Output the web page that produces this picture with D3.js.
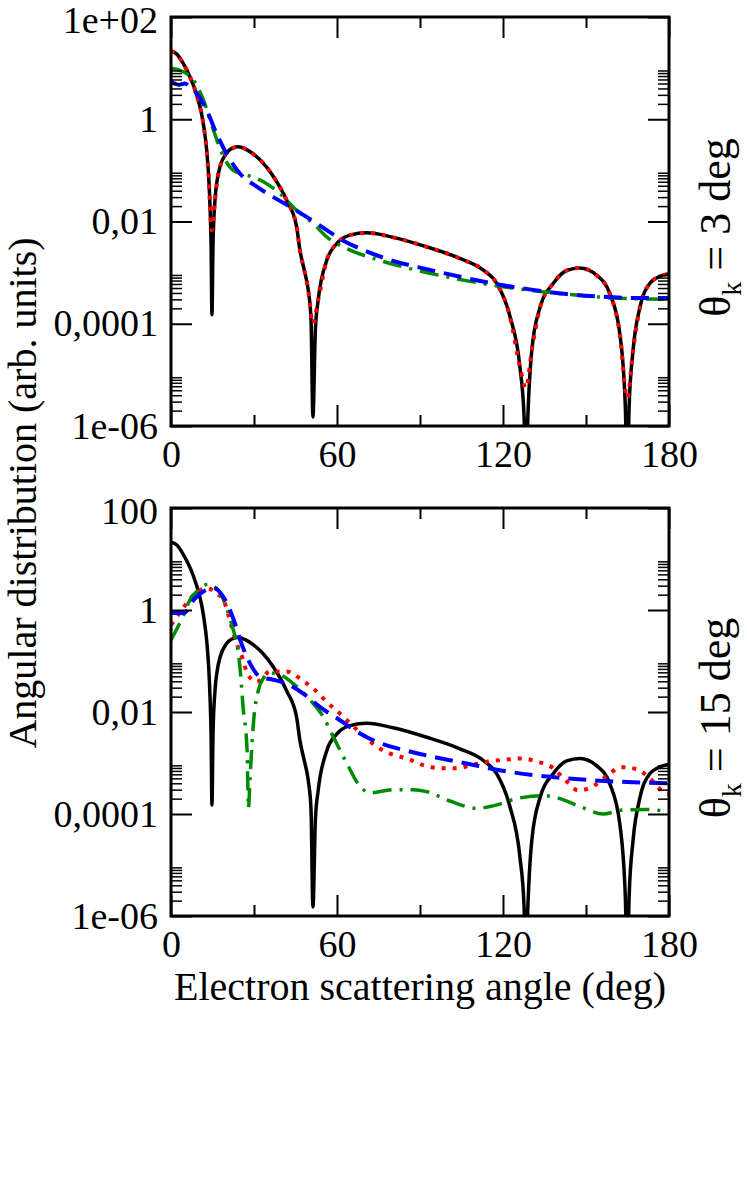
<!DOCTYPE html>
<html lang="en">
<head>
  <meta charset="UTF-8">
  <title>Angular distribution</title>
  <script src="https://cdn.jsdelivr.net/npm/d3@7"></script>
  <style>
    body {
      margin: 0;
      background: #fff;
    }
    svg text {
      fill: #000;
      white-space: pre;
    }
  </style>
</head>
<body>
  <svg id="chart" width="747" height="1194"></svg>
  <script>
    // ticks and labels
    const angleTicks = [0, 60, 120, 180];
    const angleMinorTicks = [30, 90, 150];
    const decadeTicks = [1e2, 1, 1e-2, 1e-4, 1e-6];
    const topYLabels = ['1e+02', '1', '0,01', '0,0001', '1e-06'];
    const bottomYLabels = ['100', '1', '0,01', '0,0001', '1e-06'];
    const thetaValues = ['3', '15'];

    // [angle (deg), distribution]
    // solid black curve, same in both panels
    const solidCurve = [
      [0, 21.4], [2, 19], [4, 13.5], [6, 8.5], [8, 4.8], [10, 2.2], [11, 1.32], [12, 0.63],
      [12.9, 0.25], [13.6, 0.079], [14.1, 0.02], [14.5, 3.2e-3], [14.8, 1.5e-4], [15.2, 4e-3],
      [15.9, 0.026], [16.8, 0.07], [17.7, 0.117], [20.1, 0.22], [22, 0.27], [24.3, 0.29],
      [27, 0.26], [29.7, 0.21], [33, 0.145], [37, 0.076], [41.8, 0.026], [45.4, 7.9e-3],
      [46.6, 2.75e-3], [48.2, 1.1e-3], [49.6, 4.6e-4], [50.6, 1.26e-4], [51.3, 1.5e-6],
      [52.2, 8e-5], [53.2, 2.9e-4], [56.3, 1.74e-3], [59.9, 3.7e-3], [64.7, 5.4e-3],
      [70.7, 6.0e-3], [80.3, 4.9e-3], [92.4, 3.2e-3], [104.4, 1.9e-3], [112.9, 1.12e-3],
      [117.7, 6.2e-4], [122.5, 1.4e-4], [126.1, 1.45e-5], [127.6, 1.6e-6], [128.3, 1e-7],
      [129, 1.6e-6], [130.4, 3e-5], [133.4, 2.1e-4], [138.2, 6.2e-4], [143, 1.1e-3],
      [147.8, 1.23e-3], [153.8, 8.9e-4], [158.6, 3.9e-4], [162.2, 6.5e-5], [164.2, 2.5e-6],
      [164.9, 1e-7], [165.6, 2.5e-6], [167, 3e-5], [169.5, 2.1e-4], [173.1, 6.2e-4],
      [176.5, 8.3e-4], [180, 9.5e-4]
    ];

    // theta_k = 3 deg
    const topDotted = [
      [0, 21.4], [2, 19], [4, 13.5], [6, 8.5], [8, 4.8], [10, 2.2], [11, 1.32], [12, 0.63],
      [12.9, 0.25], [13.6, 0.079], [14.7, 6.8e-3], [15.9, 0.026], [16.8, 0.07], [17.7, 0.117],
      [20.1, 0.22], [24.3, 0.29], [29.7, 0.21], [37, 0.076], [41.8, 0.026], [45.4, 7.9e-3],
      [46.6, 2.75e-3], [48.2, 1.1e-3], [49.6, 4.6e-4], [51.3, 1.0e-4], [53.2, 2.9e-4],
      [56.3, 1.74e-3], [59.9, 3.7e-3], [64.7, 5.4e-3], [70.7, 6.0e-3], [80.3, 4.9e-3],
      [92.4, 3.2e-3], [104.4, 1.9e-3], [112.9, 1.12e-3], [117.7, 6.2e-4], [122.5, 1.4e-4],
      [126.1, 1.45e-5], [128.3, 5.5e-6], [130.4, 3e-5], [133.4, 2.1e-4], [138.2, 6.2e-4],
      [143, 1.1e-3], [147.8, 1.23e-3], [153.8, 8.9e-4], [158.6, 3.9e-4], [162.2, 6.5e-5],
      [164.9, 3.5e-6], [167, 3e-5], [169.5, 2.1e-4], [173.1, 6.2e-4], [176.5, 8.3e-4],
      [180, 9.5e-4]
    ];
    const topDashed = [
      [0, 5.4], [2.9, 4.7], [5, 5.0], [7, 4.2], [9.3, 3.2], [12.9, 1.5], [16.5, 0.52],
      [20.1, 0.21], [24.9, 0.087], [31, 0.048], [37, 0.030], [43, 0.0195], [49, 0.0123],
      [56.3, 6.8e-3], [61.1, 4.6e-3], [68.3, 2.95e-3], [80.3, 1.7e-3], [92.4, 1.17e-3],
      [106.8, 7.8e-4], [118.8, 5.8e-4], [130.9, 4.6e-4], [143, 3.8e-4], [155, 3.4e-4],
      [167, 3.2e-4], [180, 3.2e-4]
    ];
    const topDashDot = [
      [0, 10], [4.45, 8.5], [8.1, 5.9], [11.7, 2.4], [15.3, 0.62], [18.9, 0.19], [22.5, 0.10],
      [27.4, 0.081], [33.4, 0.060], [39.4, 0.035], [45.4, 0.0166], [51.4, 9.1e-3],
      [56.3, 5.0e-3], [63.5, 2.95e-3], [73.1, 1.9e-3], [86.4, 1.2e-3], [102, 7.8e-4],
      [118.8, 5.4e-4], [135, 4.2e-4], [159.8, 3.2e-4], [180, 3.0e-4]
    ];

    // theta_k = 15 deg
    const bottomDotted = [
      [0, 0.51], [3.9, 1.0], [7.5, 1.8], [10.5, 2.45], [13, 2.7], [16.5, 2.1], [18.9, 1.6],
      [21.9, 0.47], [24, 0.2], [25.9, 0.112], [27.6, 0.056], [31, 0.039], [35.8, 0.062],
      [41.8, 0.062], [47.2, 0.043], [52, 0.027], [56.3, 0.0158], [61.1, 9.3e-3], [65.3, 5.6e-3],
      [69.5, 3.5e-3], [74.3, 2.1e-3], [80.3, 1.45e-3], [85.2, 1.23e-3], [91.2, 9.1e-4],
      [97.2, 7.9e-4], [103.3, 7.9e-4], [108.7, 9.1e-4], [114.7, 1.07e-3], [121.3, 1.17e-3],
      [126.7, 1.23e-3], [132.2, 1.07e-3], [138.2, 7.9e-4], [142.4, 4.7e-4], [147.2, 2.9e-4],
      [152.6, 3.5e-4], [157.5, 5.6e-4], [162.9, 8.3e-4], [168.3, 7.6e-4], [173.1, 5.0e-4],
      [177.9, 2.75e-4], [180, 2.5e-4]
    ];
    const bottomDashed = [
      [0, 0.87], [4.5, 0.87], [8.7, 1.7], [11.7, 2.3], [15.3, 2.7], [19.5, 1.6], [23.1, 0.55],
      [25, 0.26], [28.6, 0.089], [32.2, 0.049], [37, 0.043], [41.8, 0.036], [47.8, 0.023],
      [53.8, 0.0126], [61.1, 6.9e-3], [68.3, 3.8e-3], [75.5, 2.45e-3], [85.2, 1.74e-3],
      [94.8, 1.32e-3], [106.8, 9.8e-4], [118.8, 7.2e-4], [130.9, 5.8e-4], [143, 5.0e-4],
      [155, 4.5e-4], [167, 4.2e-4], [180, 4.0e-4]
    ];
    const bottomDashDot = [
      [0, 0.26], [4.5, 0.79], [6.9, 1.6], [9.9, 2.45], [13.5, 3.2], [17.1, 2.45], [20.7, 0.87],
      [22.5, 0.41], [24.2, 0.166], [24.9, 0.078], [26.1, 0.0117], [27.5, 1.8e-3], [28, 1.3e-4],
      [28.5, 4e-4], [29.2, 2.1e-3], [30, 8.1e-3], [31.6, 0.027], [33.4, 0.046], [35.8, 0.058],
      [39.4, 0.054], [44.2, 0.036], [50.2, 0.0174], [55, 8.1e-3], [58.6, 3.3e-3], [63.5, 1.0e-3],
      [68.3, 3.5e-4], [71.9, 2.6e-4], [80.3, 3.0e-4], [87.5, 3.0e-4], [92.4, 2.75e-4],
      [100.8, 1.8e-4], [110.4, 1.3e-4], [117.6, 1.5e-4], [124.9, 2.0e-4], [134.5, 2.3e-4],
      [140.6, 2.0e-4], [147.8, 1.4e-4], [156.2, 1.0e-4], [163.4, 1.2e-4], [171.9, 1.23e-4],
      [180, 1.1e-4]
    ];

    // line styles
    const solidStyle   = { color: '#000000', width: 3.5, dash: null };
    const dottedStyle  = { color: '#ff0000', width: 4,   dash: '4,7' };
    const dashedStyle  = { color: '#0000ff', width: 4,   dash: '18,9' };
    const dashDotStyle = { color: '#008b00', width: 3.5, dash: '19,8,3,8' };

    const serif = '"Liberation Serif", "Times New Roman", Times, "DejaVu Serif", serif';
    const plotLeft = 171, plotRight = 669;
    const panels = [
      { top: 17,  bottom: 426, yLabels: topYLabels, theta: thetaValues[0],
        series: [[solidCurve, solidStyle], [topDotted, dottedStyle], [topDashDot, dashDotStyle], [topDashed, dashedStyle]] },
      { top: 508, bottom: 916, yLabels: bottomYLabels, theta: thetaValues[1],
        series: [[solidCurve, solidStyle], [bottomDotted, dottedStyle], [bottomDashDot, dashDotStyle], [bottomDashed, dashedStyle]] }
    ];

    // minor log ticks: 2..9 times every labelled decade
    const minorDecadeTicks = [];
    [1e-6, 1e-4, 1e-2, 1].forEach(d => {
      for (let m = 2; m <= 9; m++) minorDecadeTicks.push(m * d);
    });

    const svg = d3.select('#chart').attr('font-family', serif);
    const x = d3.scaleLinear().domain([0, 180]).range([plotLeft, plotRight]);

    function styleAxis(g, width) {
      g.select('.domain').remove();
      g.attr('font-size', 38).attr('font-family', serif);
      g.selectAll('.tick line').attr('stroke', '#000').attr('stroke-width', width);
    }

    panels.forEach((p, i) => {
      const y = d3.scaleLog().domain([1e-6, 1e2]).range([p.bottom, p.top]);
      const g = svg.append('g');

      g.append('clipPath')
        .attr('id', 'clip' + i)
        .append('rect')
          .attr('x', plotLeft).attr('y', p.top)
          .attr('width', plotRight - plotLeft).attr('height', p.bottom - p.top);

      const line = d3.line()
        .x(d => x(d[0]))
        .y(d => y(d[1]))
        .curve(d3.curveMonotoneX);

      const curves = g.append('g').attr('clip-path', `url(#clip${i})`);
      p.series.forEach(([data, st]) => {
        curves.append('path')
          .attr('d', line(data))
          .attr('fill', 'none')
          .attr('stroke', st.color)
          .attr('stroke-width', st.width)
          .attr('stroke-dasharray', st.dash)
          .attr('stroke-linejoin', 'round');
      });

      // major ticks with labels (bottom, left), mirrored inside on top and right
      g.append('g')
        .attr('transform', `translate(0,${p.bottom})`)
        .call(d3.axisBottom(x).tickValues(angleTicks).tickSize(-21).tickSizeOuter(0).tickPadding(14))
        .call(a => styleAxis(a, 2));
      g.append('g')
        .attr('transform', `translate(0,${p.bottom})`)
        .call(d3.axisBottom(x).tickValues(angleMinorTicks).tickSize(-11).tickSizeOuter(0).tickFormat(''))
        .call(a => styleAxis(a, 2));
      g.append('g')
        .attr('transform', `translate(0,${p.top})`)
        .call(d3.axisTop(x).tickValues(angleTicks).tickSize(-21).tickSizeOuter(0).tickFormat(''))
        .call(a => styleAxis(a, 2));
      g.append('g')
        .attr('transform', `translate(0,${p.top})`)
        .call(d3.axisTop(x).tickValues(angleMinorTicks).tickSize(-11).tickSizeOuter(0).tickFormat(''))
        .call(a => styleAxis(a, 2));

      const yAxis = g.append('g')
        .attr('transform', `translate(${plotLeft},0)`)
        .call(d3.axisLeft(y).tickValues(decadeTicks).tickSize(-21).tickSizeOuter(0).tickPadding(13)
          .tickFormat((d, k) => p.yLabels[k]))
        .call(a => styleAxis(a, 2));
      // keep the top label inside the page
      yAxis.selectAll('.tick text').filter(d => d === 1e2).attr('dy', '0.42em');

      g.append('g')
        .attr('transform', `translate(${plotLeft},0)`)
        .call(d3.axisLeft(y).tickValues(minorDecadeTicks).tickSize(-11).tickSizeOuter(0).tickFormat(''))
        .call(a => styleAxis(a, 1.5));
      g.append('g')
        .attr('transform', `translate(${plotRight},0)`)
        .call(d3.axisRight(y).tickValues(decadeTicks).tickSize(-21).tickSizeOuter(0).tickFormat(''))
        .call(a => styleAxis(a, 2));
      g.append('g')
        .attr('transform', `translate(${plotRight},0)`)
        .call(d3.axisRight(y).tickValues(minorDecadeTicks).tickSize(-11).tickSizeOuter(0).tickFormat(''))
        .call(a => styleAxis(a, 1.5));

      // frame
      g.append('rect')
        .attr('x', plotLeft).attr('y', p.top)
        .attr('width', plotRight - plotLeft).attr('height', p.bottom - p.top)
        .attr('fill', 'none')
        .attr('stroke', '#000')
        .attr('stroke-width', 3);

      // panel label on the right: theta_k = .. deg
      const lab = g.append('text')
        .attr('transform', `translate(730,${(p.top + p.bottom) / 2 + 6}) rotate(-90)`)
        .attr('text-anchor', 'middle')
        .attr('font-family', serif)
        .attr('font-size', 44);
      lab.append('tspan').text('θ');
      lab.append('tspan').attr('font-size', 28).attr('dy', 11).text('k');
      lab.append('tspan').attr('dy', -11).text(` = ${p.theta} deg`);
    });

    // axis titles
    svg.append('text')
      .attr('x', (plotLeft + plotRight) / 2)
      .attr('y', 1000)
      .attr('text-anchor', 'middle')
      .attr('font-family', serif)
      .attr('font-size', 40)
      .text('Electron scattering angle (deg)');

    svg.append('text')
      .attr('transform', 'translate(36,493) rotate(-90)')
      .attr('text-anchor', 'middle')
      .attr('font-family', serif)
      .attr('font-size', 40)
      .text('Angular distribution (arb. units)');
  </script>
</body>
</html>
